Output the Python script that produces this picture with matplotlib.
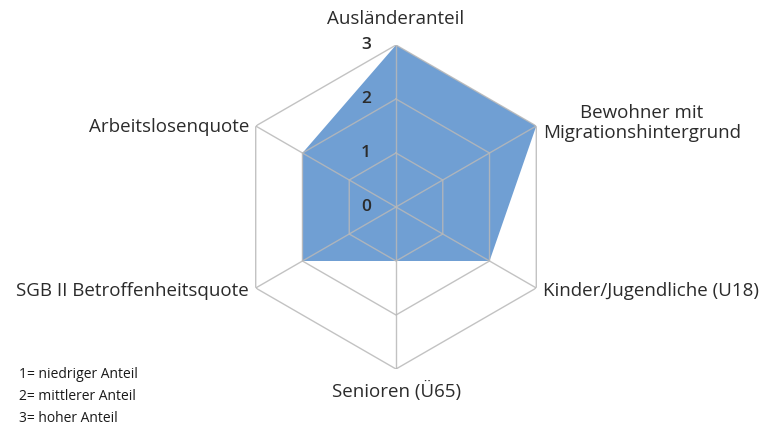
import numpy as np
import matplotlib.pyplot as plt
from matplotlib.transforms import offset_copy

plt.rcParams["font.family"] = ["Open Sans", "DejaVu Sans"]

categories = [
    "Ausländeranteil",
    "Bewohner mit\nMigrationshintergrund",
    "Kinder/Jugendliche (U18)",
    "Senioren (Ü65)",
    "SGB II Betroffenheitsquote",
    "Arbeitslosenquote",
]
values = [3, 3, 2, 1, 2, 2]
rings = [0, 1, 2, 3]
legend_lines = ["1= niedriger Anteil", "2= mittlerer Anteil", "3= hoher Anteil"]

fill_color = "#709fd3"
grid_color = "#b8b8b8"
text_color = "#2b2b2b"

W, H = 776, 430
fig = plt.figure(figsize=(W / 100, H / 100), dpi=100)

cx, cy, rad = 396, 207, 162
ax = fig.add_axes(
    [(cx - rad) / W, (H - cy - rad) / H, 2 * rad / W, 2 * rad / H], projection="polar"
)
ax.set_theta_offset(np.pi / 2)
ax.set_theta_direction(-1)
ax.set_ylim(0, 3)
ax.grid(False)
ax.spines["polar"].set_visible(False)
ax.set_xticks([])
ax.set_yticks([])
ax.patch.set_alpha(0)

angles = np.linspace(0, 2 * np.pi, len(categories), endpoint=False)
closed = np.append(angles, angles[0])

# series polygon
ax.fill(closed, values + values[:1], color=fill_color, zorder=1, lw=0)

# hexagonal grid and spokes drawn on top of the fill
for r in rings[1:]:
    ax.plot(closed, [r] * len(closed), color=grid_color, lw=1, zorder=2, alpha=0.85)
for a in angles:
    ax.plot([a, a], [0, rings[-1]], color=grid_color, lw=1, zorder=2, alpha=0.85)

# value labels along the first spoke
lab_tr = offset_copy(ax.transData, fig=fig, x=-30, y=0, units="dots")
for r in rings:
    ax.text(0, r, str(r), transform=lab_tr, ha="center", va="center",
            fontsize=12.5, color=text_color, fontweight="semibold")

# category labels
label_pos = [
    (396, 19, "center"),
    (642, 123, "center"),
    (543, 291, "left"),
    (397, 391, "center"),
    (249, 291, "right"),
    (249, 127, "right"),
]
for name, (x, y, ha) in zip(categories, label_pos):
    fig.text(x / W, 1 - y / H, name, ha=ha, va="center", fontsize=13.5,
             color=text_color, linespacing=1.15)

for i, line in enumerate(legend_lines):
    fig.text(19 / W, 1 - (374 + 22.5 * i) / H, line, ha="left", va="center",
             fontsize=10, color="#1a1a1a")

fig.savefig("out.png", dpi=100)
